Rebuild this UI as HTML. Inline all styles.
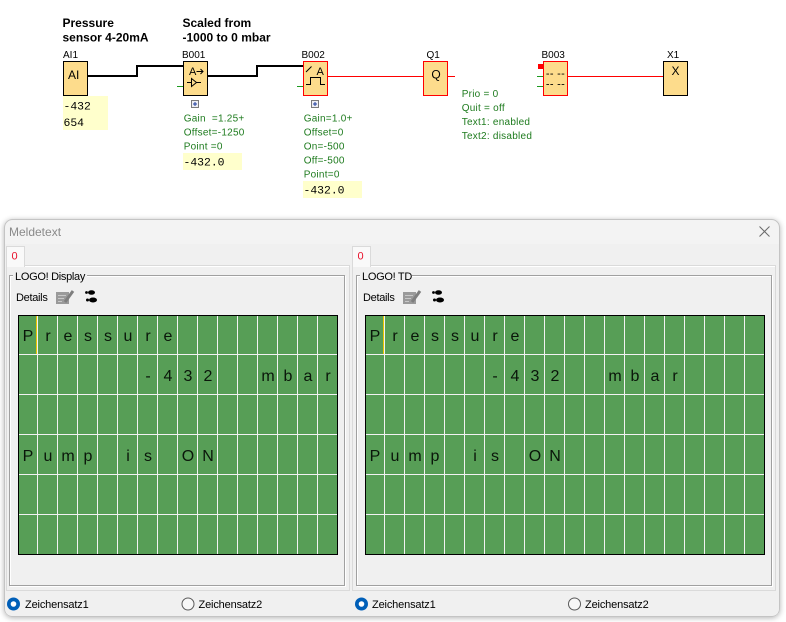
<!DOCTYPE html>
<html>
<head>
<meta charset="utf-8">
<style>
  html,body{margin:0;padding:0;background:#ffffff;}
  body{width:786px;height:622px;overflow:hidden;}
  svg{display:block;}
  .lbl{font-family:"Liberation Sans",sans-serif;font-size:10px;fill:#000;}
  .hdr{font-family:"Liberation Sans",sans-serif;font-size:12px;font-weight:bold;fill:#000;}
  .grn{font-family:"Liberation Sans",sans-serif;font-size:10px;fill:#1e7b1e;letter-spacing:0.25px;white-space:pre;}
  .val{font-family:"Liberation Mono",monospace;font-size:11.4px;fill:#000;}
  .blk{font-family:"Liberation Sans",sans-serif;font-size:12px;fill:#000;}
  .ui{font-family:"Liberation Sans",sans-serif;font-size:11px;fill:#000;letter-spacing:-0.3px;}
  .lcd{font-family:"Liberation Sans",sans-serif;font-size:16px;fill:#0a160a;text-anchor:middle;}
</style>
</head>
<body>
<svg width="786" height="622" viewBox="0 0 786 622" xmlns="http://www.w3.org/2000/svg">
  <defs>
    <filter id="sh" x="-5%" y="-5%" width="110%" height="115%">
      <feGaussianBlur in="SourceAlpha" stdDeviation="3"/>
      <feOffset dx="0" dy="1" result="b"/>
      <feComponentTransfer><feFuncA type="linear" slope="0.3"/></feComponentTransfer>
      <feMerge><feMergeNode/><feMergeNode in="SourceGraphic"/></feMerge>
    </filter>
  </defs>
  <rect width="786" height="622" fill="#ffffff"/>

  <!-- ===== Top diagram ===== -->
  <text class="hdr" x="62.5" y="27">Pressure</text>
  <text class="hdr" x="62.5" y="41.5">sensor 4-20mA</text>
  <text class="hdr" x="182.5" y="27">Scaled from</text>
  <text class="hdr" x="182.5" y="41.5">-1000 to 0 mbar</text>

  <text class="lbl" x="63" y="58">AI1</text>
  <text class="lbl" x="182" y="58">B001</text>
  <text class="lbl" x="301.5" y="58">B002</text>
  <text class="lbl" x="426.5" y="58">Q1</text>
  <text class="lbl" x="541.5" y="58">B003</text>
  <text class="lbl" x="667" y="58">X1</text>

  <!-- black connection lines -->
  <polyline points="88,76 137,76 137,66 183,66" fill="none" stroke="#000" stroke-width="2"/>
  <polyline points="208,76 257,76 257,66 303,66" fill="none" stroke="#000" stroke-width="2"/>
  <!-- red lines -->
  <line x1="328" y1="76.5" x2="423" y2="76.5" stroke="#ff0000" stroke-width="1"/>
  <line x1="448" y1="76.5" x2="455" y2="76.5" stroke="#ff0000" stroke-width="1"/>
  <line x1="568" y1="76.5" x2="663" y2="76.5" stroke="#ff0000" stroke-width="1"/>
  <!-- green stubs -->
  <line x1="177" y1="86.5" x2="183" y2="86.5" stroke="#1e9a1e" stroke-width="1"/>
  <line x1="297" y1="86.5" x2="303" y2="86.5" stroke="#1e9a1e" stroke-width="1"/>
  <line x1="537" y1="76.5" x2="543" y2="76.5" stroke="#1e9a1e" stroke-width="1"/>
  <line x1="537" y1="86.5" x2="543" y2="86.5" stroke="#1e9a1e" stroke-width="1"/>
  <rect x="538" y="64" width="5" height="5" fill="#ff0000"/>

  <!-- blocks -->
  <rect x="63.5" y="61.5" width="24" height="34" fill="#fddc8c" stroke="#000"/>
  <text class="blk" x="68" y="79">AI</text>

  <rect x="183.5" y="61.5" width="24" height="34" fill="#fddc8c" stroke="#000"/>
  <text class="blk" x="189" y="75" style="font-size:11px">A</text>
  <line x1="196.5" y1="71.5" x2="203" y2="71.5" stroke="#000"/>
  <polyline points="200.5,69 203,71.5 200.5,74" fill="none" stroke="#000"/>
  <line x1="187" y1="82.5" x2="201" y2="82.5" stroke="#000"/>
  <polygon points="191.5,78.5 191.5,86.5 196.5,82.5" fill="#fddc8c" stroke="#000"/>

  <rect x="303.5" y="61.5" width="24" height="34" fill="#fddc8c" stroke="#ff0000"/>
  <line x1="306" y1="72" x2="311.5" y2="66.5" stroke="#000"/>
  <text class="blk" x="316.5" y="75" style="font-size:11px">A</text>
  <polyline points="306,84.5 310.5,84.5 310.5,77.5 320.5,77.5 320.5,84.5 325,84.5" fill="none" stroke="#000"/>

  <rect x="423.5" y="61.5" width="24" height="34" fill="#fddc8c" stroke="#ff0000"/>
  <text class="blk" x="436" y="78.5" text-anchor="middle">Q</text>

  <rect x="543.5" y="61.5" width="24" height="34" fill="#fddc8c" stroke="#ff0000"/>
  <text class="blk" x="555.5" y="77" text-anchor="middle" style="font-size:11px;letter-spacing:0.3px">-- --</text>
  <text class="blk" x="555.5" y="87.5" text-anchor="middle" style="font-size:11px;letter-spacing:0.3px">-- --</text>

  <rect x="663.5" y="61.5" width="24" height="34" fill="#fddc8c" stroke="#000"/>
  <text class="blk" x="675.5" y="75" text-anchor="middle">X</text>

  <!-- plus icons -->
  <rect x="191.5" y="100.5" width="7" height="7" fill="#eeeef4" stroke="#7a7a7a"/>
  <line x1="193" y1="104" x2="197" y2="104" stroke="#1c3c9c"/>
  <line x1="195" y1="102" x2="195" y2="106" stroke="#1c3c9c"/>
  <rect x="311.5" y="100.5" width="7" height="7" fill="#eeeef4" stroke="#7a7a7a"/>
  <line x1="313" y1="104" x2="317" y2="104" stroke="#1c3c9c"/>
  <line x1="315" y1="102" x2="315" y2="106" stroke="#1c3c9c"/>

  <!-- value boxes -->
  <rect x="63" y="96" width="45" height="34" fill="#ffffcc"/>
  <text class="val" x="63.5" y="109.5">-432</text>
  <text class="val" x="63.5" y="126">654</text>

  <rect x="183" y="153" width="59" height="17" fill="#ffffcc"/>
  <text class="val" x="183.5" y="165.5">-432.0</text>

  <rect x="303" y="181" width="59" height="17" fill="#ffffcc"/>
  <text class="val" x="303.5" y="193.5">-432.0</text>

  <!-- green parameter text -->
  <text class="grn" x="183.7" y="121.3" xml:space="preserve">Gain  =1.25+</text>
  <text class="grn" x="183.7" y="135.3">Offset=-1250</text>
  <text class="grn" x="183.7" y="149.3">Point =0</text>

  <text class="grn" x="303.7" y="121.3">Gain=1.0+</text>
  <text class="grn" x="303.7" y="135.3">Offset=0</text>
  <text class="grn" x="303.7" y="149.3">On=-500</text>
  <text class="grn" x="303.7" y="163.3">Off=-500</text>
  <text class="grn" x="303.7" y="177.3">Point=0</text>

  <text class="grn" x="461.7" y="96.9">Prio = 0</text>
  <text class="grn" x="461.7" y="110.9">Quit = off</text>
  <text class="grn" x="461.7" y="124.9">Text1: enabled</text>
  <text class="grn" x="461.7" y="138.9">Text2: disabled</text>

  <!-- ===== Dialog window ===== -->
  <rect x="4.5" y="219.5" width="775" height="397" rx="8" ry="8" fill="#f3f3f3" stroke="#c4c4c4" filter="url(#sh)"/>
  <path d="M5,244 H779 V608 Q779,616 771,616 H13 Q5,616 5,608 Z" fill="#f0f0f0"/>
  <text x="9" y="236" style="font-family:'Liberation Sans',sans-serif;font-size:12px;fill:#8a8a8a">Meldetext</text>
  <line x1="759.5" y1="226.5" x2="769.5" y2="236.5" stroke="#6a6a6a" stroke-width="1"/>
  <line x1="769.5" y1="226.5" x2="759.5" y2="236.5" stroke="#6a6a6a" stroke-width="1"/>

  <!-- tab panes -->
  <rect x="6.5" y="265.5" width="343" height="325" fill="#f0f0f0" stroke="#dadada"/>
  <rect x="352.5" y="265.5" width="423" height="325" fill="#f0f0f0" stroke="#dadada"/>
  <line x1="7" y1="266.5" x2="349" y2="266.5" stroke="#ffffff"/>
  <line x1="353" y1="266.5" x2="775" y2="266.5" stroke="#ffffff"/>

  <!-- tabs -->
  <rect x="6.5" y="246.5" width="18" height="20" fill="#f9f9f9" stroke="#dadada"/>
  <rect x="7" y="265" width="17" height="2" fill="#f9f9f9"/>
  <text x="11.5" y="259.5" style="font-family:'Liberation Sans',sans-serif;font-size:11px;fill:#e8102a">0</text>
  <rect x="352.5" y="246.5" width="18" height="20" fill="#f9f9f9" stroke="#dadada"/>
  <rect x="353" y="265" width="17" height="2" fill="#f9f9f9"/>
  <text x="357.5" y="259.5" style="font-family:'Liberation Sans',sans-serif;font-size:11px;fill:#e8102a">0</text>

  <!-- group boxes -->
  <rect x="10.5" y="276.5" width="335" height="310" fill="none" stroke="#ffffff"/>
  <rect x="9.5" y="275.5" width="335" height="310" fill="none" stroke="#a0a0a0"/>
  <rect x="13" y="270" width="74" height="12" fill="#f0f0f0"/>
  <text class="ui" x="15" y="280">LOGO! Display</text>

  <rect x="357.5" y="276.5" width="415" height="310" fill="none" stroke="#ffffff"/>
  <rect x="356.5" y="275.5" width="415" height="310" fill="none" stroke="#a0a0a0"/>
  <rect x="360" y="270" width="52" height="12" fill="#f0f0f0"/>
  <text class="ui" x="362" y="280">LOGO! TD</text>

  <!-- Details rows -->
  <text class="ui" x="16" y="301">Details</text>
  <g>
    <rect x="56" y="292" width="13" height="12" fill="#9a9a9a"/>
    <line x1="58" y1="295.5" x2="66" y2="295.5" stroke="#c8c8c8"/>
    <line x1="58" y1="298.5" x2="64" y2="298.5" stroke="#c8c8c8"/>
    <line x1="58" y1="301.5" x2="62" y2="301.5" stroke="#c8c8c8"/>
    <line x1="65" y1="302" x2="73" y2="291" stroke="#7e7e7e" stroke-width="3"/>
    <ellipse cx="91.5" cy="292.5" rx="3.5" ry="2.3" fill="#000"/>
    <circle cx="86.5" cy="292.5" r="1.4" fill="#000"/>
    <ellipse cx="93" cy="300" rx="4" ry="2.5" fill="#000"/>
    <circle cx="87.5" cy="300" r="1.5" fill="#000"/>
  </g>
  <text class="ui" x="363" y="301">Details</text>
  <g transform="translate(347,0)">
    <rect x="56" y="292" width="13" height="12" fill="#9a9a9a"/>
    <line x1="58" y1="295.5" x2="66" y2="295.5" stroke="#c8c8c8"/>
    <line x1="58" y1="298.5" x2="64" y2="298.5" stroke="#c8c8c8"/>
    <line x1="58" y1="301.5" x2="62" y2="301.5" stroke="#c8c8c8"/>
    <line x1="65" y1="302" x2="73" y2="291" stroke="#7e7e7e" stroke-width="3"/>
    <ellipse cx="91.5" cy="292.5" rx="3.5" ry="2.3" fill="#000"/>
    <circle cx="86.5" cy="292.5" r="1.4" fill="#000"/>
    <ellipse cx="93" cy="300" rx="4" ry="2.5" fill="#000"/>
    <circle cx="87.5" cy="300" r="1.5" fill="#000"/>
  </g>

  <!-- ===== Left LCD (16x6) ===== -->
  <rect x="18" y="315" width="320" height="240" fill="#579e56"/>
  <g stroke="#f2f2f2" stroke-width="1">
    <line x1="37.5" y1="316" x2="37.5" y2="554"/><line x1="57.5" y1="316" x2="57.5" y2="554"/>
    <line x1="77.5" y1="316" x2="77.5" y2="554"/><line x1="97.5" y1="316" x2="97.5" y2="554"/>
    <line x1="117.5" y1="316" x2="117.5" y2="554"/><line x1="137.5" y1="316" x2="137.5" y2="554"/>
    <line x1="157.5" y1="316" x2="157.5" y2="554"/><line x1="177.5" y1="316" x2="177.5" y2="554"/>
    <line x1="197.5" y1="316" x2="197.5" y2="554"/><line x1="217.5" y1="316" x2="217.5" y2="554"/>
    <line x1="237.5" y1="316" x2="237.5" y2="554"/><line x1="257.5" y1="316" x2="257.5" y2="554"/>
    <line x1="277.5" y1="316" x2="277.5" y2="554"/><line x1="297.5" y1="316" x2="297.5" y2="554"/>
    <line x1="317.5" y1="316" x2="317.5" y2="554"/>
    <line x1="19" y1="354.5" x2="337" y2="354.5"/><line x1="19" y1="394.5" x2="337" y2="394.5"/>
    <line x1="19" y1="434.5" x2="337" y2="434.5"/><line x1="19" y1="474.5" x2="337" y2="474.5"/>
    <line x1="19" y1="514.5" x2="337" y2="514.5"/>
  </g>
  <line x1="36.5" y1="316" x2="36.5" y2="354" stroke="#e6c800"/>
  <rect x="18.5" y="315.5" width="319" height="239" fill="none" stroke="#000"/>
  <g>
    <text class="lcd" x="28" y="341">P</text><text class="lcd" x="48" y="341">r</text>
    <text class="lcd" x="68" y="341">e</text><text class="lcd" x="88" y="341">s</text>
    <text class="lcd" x="108" y="341">s</text><text class="lcd" x="128" y="341">u</text>
    <text class="lcd" x="148" y="341">r</text><text class="lcd" x="168" y="341">e</text>

    <text class="lcd" x="148" y="381">-</text><text class="lcd" x="168" y="381">4</text>
    <text class="lcd" x="188" y="381">3</text><text class="lcd" x="208" y="381">2</text>
    <text class="lcd" x="268" y="381">m</text><text class="lcd" x="288" y="381">b</text>
    <text class="lcd" x="308" y="381">a</text><text class="lcd" x="328" y="381">r</text>

    <text class="lcd" x="28" y="461">P</text><text class="lcd" x="48" y="461">u</text>
    <text class="lcd" x="68" y="461">m</text><text class="lcd" x="88" y="461">p</text>
    <text class="lcd" x="128" y="461">i</text><text class="lcd" x="148" y="461">s</text>
    <text class="lcd" x="188" y="461">O</text><text class="lcd" x="208" y="461">N</text>
  </g>

  <!-- ===== Right LCD (20x6) ===== -->
  <rect x="365" y="315" width="400" height="240" fill="#579e56"/>
  <g stroke="#f2f2f2" stroke-width="1">
    <line x1="384.5" y1="316" x2="384.5" y2="554"/><line x1="404.5" y1="316" x2="404.5" y2="554"/>
    <line x1="424.5" y1="316" x2="424.5" y2="554"/><line x1="444.5" y1="316" x2="444.5" y2="554"/>
    <line x1="464.5" y1="316" x2="464.5" y2="554"/><line x1="484.5" y1="316" x2="484.5" y2="554"/>
    <line x1="504.5" y1="316" x2="504.5" y2="554"/><line x1="524.5" y1="316" x2="524.5" y2="554"/>
    <line x1="544.5" y1="316" x2="544.5" y2="554"/><line x1="564.5" y1="316" x2="564.5" y2="554"/>
    <line x1="584.5" y1="316" x2="584.5" y2="554"/><line x1="604.5" y1="316" x2="604.5" y2="554"/>
    <line x1="624.5" y1="316" x2="624.5" y2="554"/><line x1="644.5" y1="316" x2="644.5" y2="554"/>
    <line x1="664.5" y1="316" x2="664.5" y2="554"/><line x1="684.5" y1="316" x2="684.5" y2="554"/>
    <line x1="704.5" y1="316" x2="704.5" y2="554"/><line x1="724.5" y1="316" x2="724.5" y2="554"/>
    <line x1="744.5" y1="316" x2="744.5" y2="554"/>
    <line x1="366" y1="354.5" x2="764" y2="354.5"/><line x1="366" y1="394.5" x2="764" y2="394.5"/>
    <line x1="366" y1="434.5" x2="764" y2="434.5"/><line x1="366" y1="474.5" x2="764" y2="474.5"/>
    <line x1="366" y1="514.5" x2="764" y2="514.5"/>
  </g>
  <line x1="383.5" y1="316" x2="383.5" y2="354" stroke="#e6c800"/>
  <rect x="365.5" y="315.5" width="399" height="239" fill="none" stroke="#000"/>
  <g>
    <text class="lcd" x="375" y="341">P</text><text class="lcd" x="395" y="341">r</text>
    <text class="lcd" x="415" y="341">e</text><text class="lcd" x="435" y="341">s</text>
    <text class="lcd" x="455" y="341">s</text><text class="lcd" x="475" y="341">u</text>
    <text class="lcd" x="495" y="341">r</text><text class="lcd" x="515" y="341">e</text>

    <text class="lcd" x="495" y="381">-</text><text class="lcd" x="515" y="381">4</text>
    <text class="lcd" x="535" y="381">3</text><text class="lcd" x="555" y="381">2</text>
    <text class="lcd" x="615" y="381">m</text><text class="lcd" x="635" y="381">b</text>
    <text class="lcd" x="655" y="381">a</text><text class="lcd" x="675" y="381">r</text>

    <text class="lcd" x="375" y="461">P</text><text class="lcd" x="395" y="461">u</text>
    <text class="lcd" x="415" y="461">m</text><text class="lcd" x="435" y="461">p</text>
    <text class="lcd" x="475" y="461">i</text><text class="lcd" x="495" y="461">s</text>
    <text class="lcd" x="535" y="461">O</text><text class="lcd" x="555" y="461">N</text>
  </g>

  <!-- ===== Radio buttons ===== -->
  <circle cx="13.5" cy="604" r="6.5" fill="#005fb8"/>
  <circle cx="13.5" cy="604" r="2.8" fill="#ffffff"/>
  <text class="ui" x="25" y="608" style="letter-spacing:-0.15px">Zeichensatz1</text>

  <circle cx="188" cy="604" r="6" fill="#f7f7f7" stroke="#5a5a5a"/>
  <text class="ui" x="198.5" y="608" style="letter-spacing:-0.15px">Zeichensatz2</text>

  <circle cx="361.5" cy="604" r="6.5" fill="#005fb8"/>
  <circle cx="361.5" cy="604" r="2.8" fill="#ffffff"/>
  <text class="ui" x="372" y="608" style="letter-spacing:-0.15px">Zeichensatz1</text>

  <circle cx="574.5" cy="604" r="6" fill="#f7f7f7" stroke="#5a5a5a"/>
  <text class="ui" x="585" y="608" style="letter-spacing:-0.15px">Zeichensatz2</text>
</svg>
</body>
</html>
